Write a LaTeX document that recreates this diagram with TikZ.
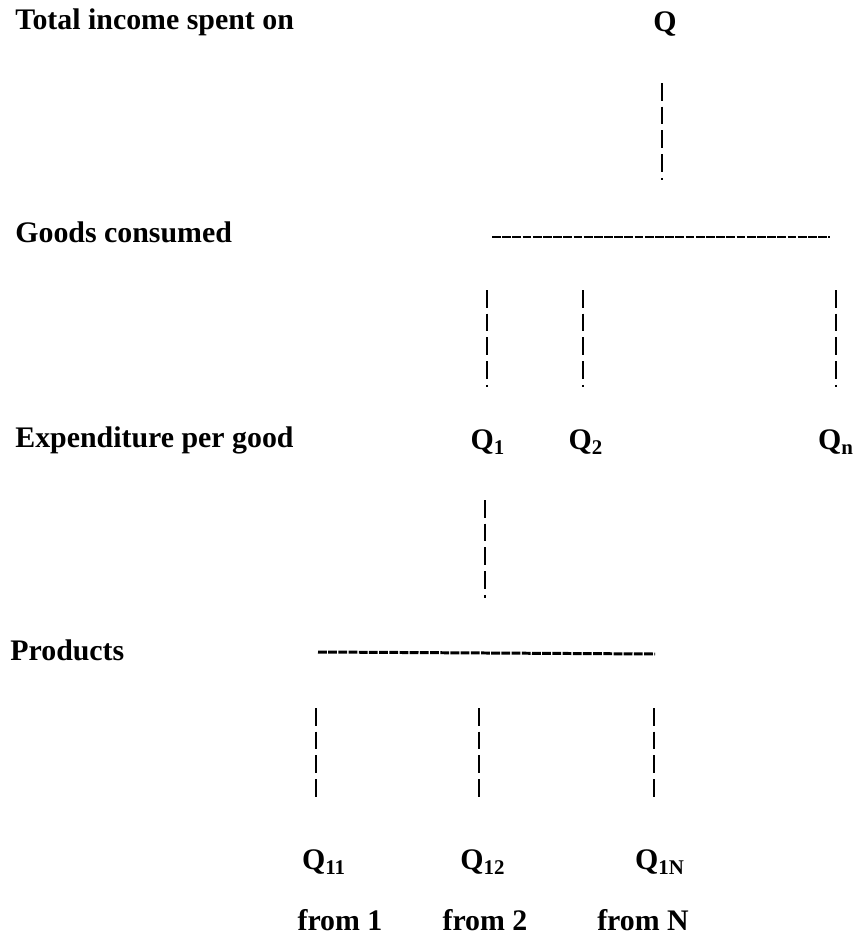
\documentclass[tikz,border=0pt]{standalone}
\usepackage{fontspec}
\setmainfont{Liberation Serif}
\usetikzlibrary{positioning}

\begin{document}
\begin{tikzpicture}[x=0.02cm, y=-0.02cm,
  lvl/.style={anchor=west, inner sep=0pt, font=\fontsize{17}{20}\selectfont\bfseries},
  qlab/.style={inner sep=0pt, font=\fontsize{17}{20}\selectfont\bfseries},
  src/.style={inner sep=0pt, font=\fontsize{17}{20}\selectfont\bfseries},
  vline/.style={line width=1.4pt, dash pattern=on 10pt off 3.5pt},
  hline/.style={line width=1.7pt, dash pattern=on 5pt off 0.8pt}]
  \useasboundingbox (0,0) rectangle (857,950);
  % level labels
  \node[lvl] (total) at (15,22) {Total income spent on};
  \node[lvl] (goods) at (15,232) {Goods consumed};
  \node[lvl] (expend) at (15,440) {Expenditure per good};
  \node[lvl] (prod) at (10,650) {Products};

  % top level
  \node[qlab] (q) at (665,24) {Q};
  \coordinate (qa) at (662,83);
  \coordinate (qb) at (662,180);
  \draw[vline] (qa) -- (qb);
  \coordinate (gl) at (492,237);
  \coordinate (gr) at (830,237);
  \draw[hline] (gl) -- (gr);

  % goods
  \node[qlab] (q1) at (488,442) {Q\textsubscript{1}};
  \node[qlab] (q2) at (586,442) {Q\textsubscript{2}};
  \node[qlab] (qn) at (836,442) {Q\textsubscript{n}};
  \foreach \x/\n in {487/a, 583/b, 836/c} {
    \coordinate (g\n1) at (\x,290);
    \coordinate (g\n2) at (\x,387);
    \draw[vline] (g\n1) -- (g\n2);
  }
  \coordinate (pa) at (485,500);
  \coordinate (pb) at (485,598);
  \draw[vline] (pa) -- (pb);

  % products
  \coordinate (pl) at (318,652);
  \coordinate (pr) at (655,654);
  \draw[hline] (pl) -- (pr);
  \foreach \x/\n in {316/a, 479/b, 654/c} {
    \coordinate (s\n1) at (\x,708);
    \coordinate (s\n2) at (\x,800);
    \draw[vline] (s\n1) -- (s\n2);
  }
  \node[qlab] (q11) at (324,862) {Q\textsubscript{11}};
  \node[qlab] (q12) at (483,862) {Q\textsubscript{12}};
  \node[qlab] (q1n) at (660,862) {Q\textsubscript{1N}};
  \node[src] (f1) at (340,920) {from 1};
  \node[src] (f2) at (485,920) {from 2};
  \node[src] (fn) at (643,920) {from N};
\end{tikzpicture}
\end{document}
